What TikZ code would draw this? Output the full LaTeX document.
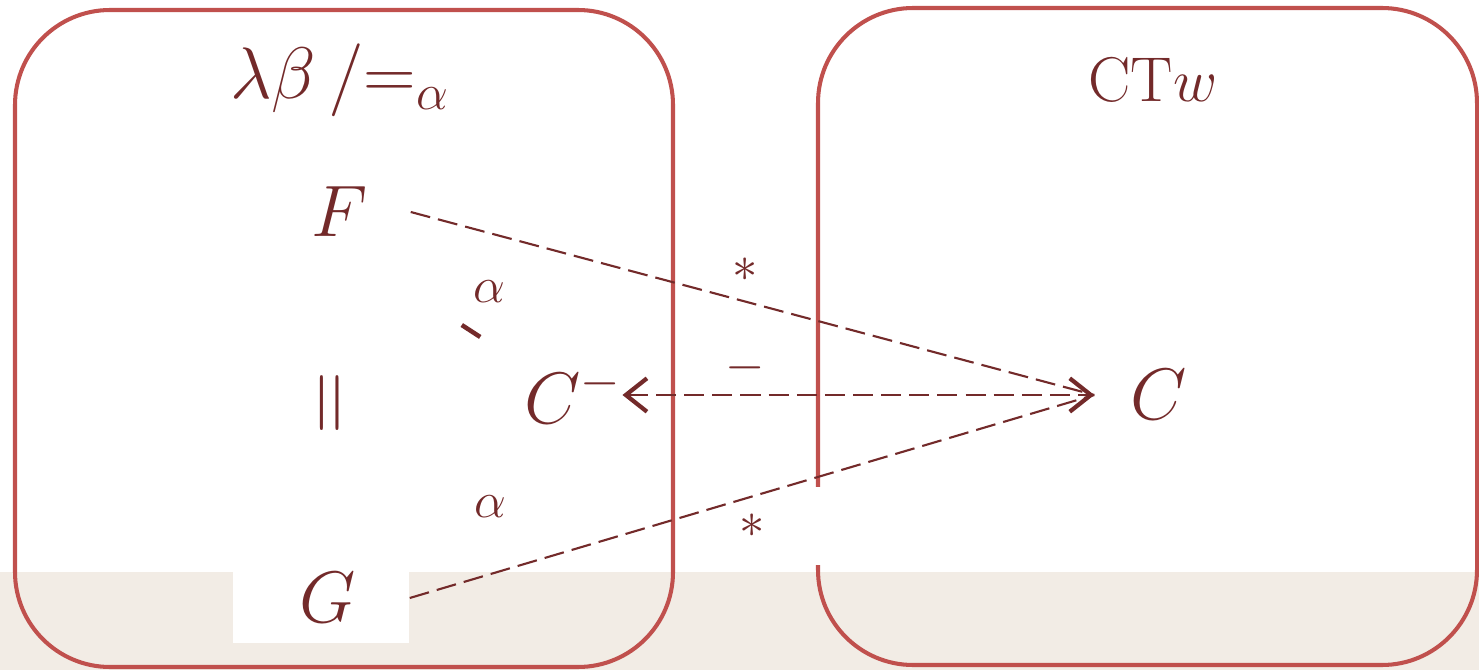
\documentclass[tikz,border=0pt]{standalone}
\usepackage{amsmath}
\usepackage{amssymb}
\usepackage{xcolor}
\definecolor{SlideBrown}{RGB}{115,42,42}
\definecolor{BoxRed}{RGB}{192,80,77}
\definecolor{Weave}{RGB}{242,236,229}
\usepackage{tikz}
\usetikzlibrary{
    arrows.meta,
    positioning
}
\tikzset{
    panel/.style={
        draw=BoxRed,
        line width=1.15pt,
        rounded corners=0.95cm
    },
    head/.style={
        text=SlideBrown,
        inner sep=0pt,
        font=\fontsize{21}{25}\selectfont
    },
    term/.style={
        text=SlideBrown,
        inner sep=0pt,
        font=\fontsize{20}{24}\selectfont
    },
    lbl/.style={
        text=SlideBrown,
        inner sep=0pt,
        font=\fontsize{14}{17}\selectfont
    },
    link/.style={
        SlideBrown,
        line width=0.6pt,
        dash pattern=on 5.7pt off 2.3pt
    },
    barbs/.style={
        {Straight Barb[length=6pt,width=9.5pt,line width=1.2pt]}-{Straight Barb[length=6pt,width=9.5pt,line width=1.2pt]}
    }
}

\begin{document}
\begin{tikzpicture}[x=0.01cm,y=-0.01cm]
%
    \useasboundingbox
    (0,0)
    rectangle
    (1479,670);
%
    \fill[
        Weave
    ]
    (0,572)
    rectangle
    (1479,670);
%
    \draw[
        panel
    ]
    (15,10)
    rectangle
    (673,667);
%
    \draw[
        panel
    ]
    (818,8)
    rectangle
    (1477,665);
%
    \node[
        head
    ]
    (lhead) at (340,80) {
        $\lambda\beta\,/{=}_{\alpha}$
    };
%
    \node[
        head,
        font=\fontsize{18}{22}\selectfont
    ]
    (rhead) at (1153,80) {
        CT$w$
    };
%
    \node[
        term,
        minimum width=1.4cm,
        minimum height=0.9cm
    ]
    (F) at (340,212) {
        $F$
    };
%
    \node[
        term,
        font=\fontsize{26}{30}\selectfont,
        rotate=90
    ]
    (eq) at (336,403) {
        $=$
    };
%
    \node[
        term,
        fill=white,
        minimum width=1.76cm,
        minimum height=0.9cm
    ]
    (G) at (321,598) {
        \kern4pt$G$
    };
%
    \node[
        term
    ]
    (Cm) at (573,395) {
        $C^{-}$
    };
%
    \node[
        term,
        minimum width=1.28cm
    ]
    (C) at (1159,395) {
        $C$
    };
%
    \node[
        lbl
    ]
    (aup) at (489,292) {
        $\alpha$
    };
%
    \node[
        fill=SlideBrown,
        inner sep=0pt,
        minimum width=0.22cm,
        minimum height=0.045cm,
        rotate=-33
    ]
    (grave) at (471,331) {};
%
    \node[
        lbl
    ]
    (adown) at (490,507) {
        $\alpha$
    };
%
    \node[
        lbl
    ]
    (starup) at (745,270) {
        $*$
    };
%
    \node[
        lbl
    ]
    (bar) at (745,368) {
        $-$
    };
%
    \node[
        lbl,
        fill=white,
        minimum width=1.4cm,
        minimum height=0.78cm
    ]
    (stardown) at (752,526) {
        $*$
    };
%
    \draw[
        link
    ]
    (F.east)
    --
    (C.west);
%
    \draw[
        link
    ]
    (G.east)
    --
    (C.west);
%
    \draw[
        link,
        barbs
    ]
    (Cm.east)
    --
    (C.west);
%
\end{tikzpicture}
\end{document}
